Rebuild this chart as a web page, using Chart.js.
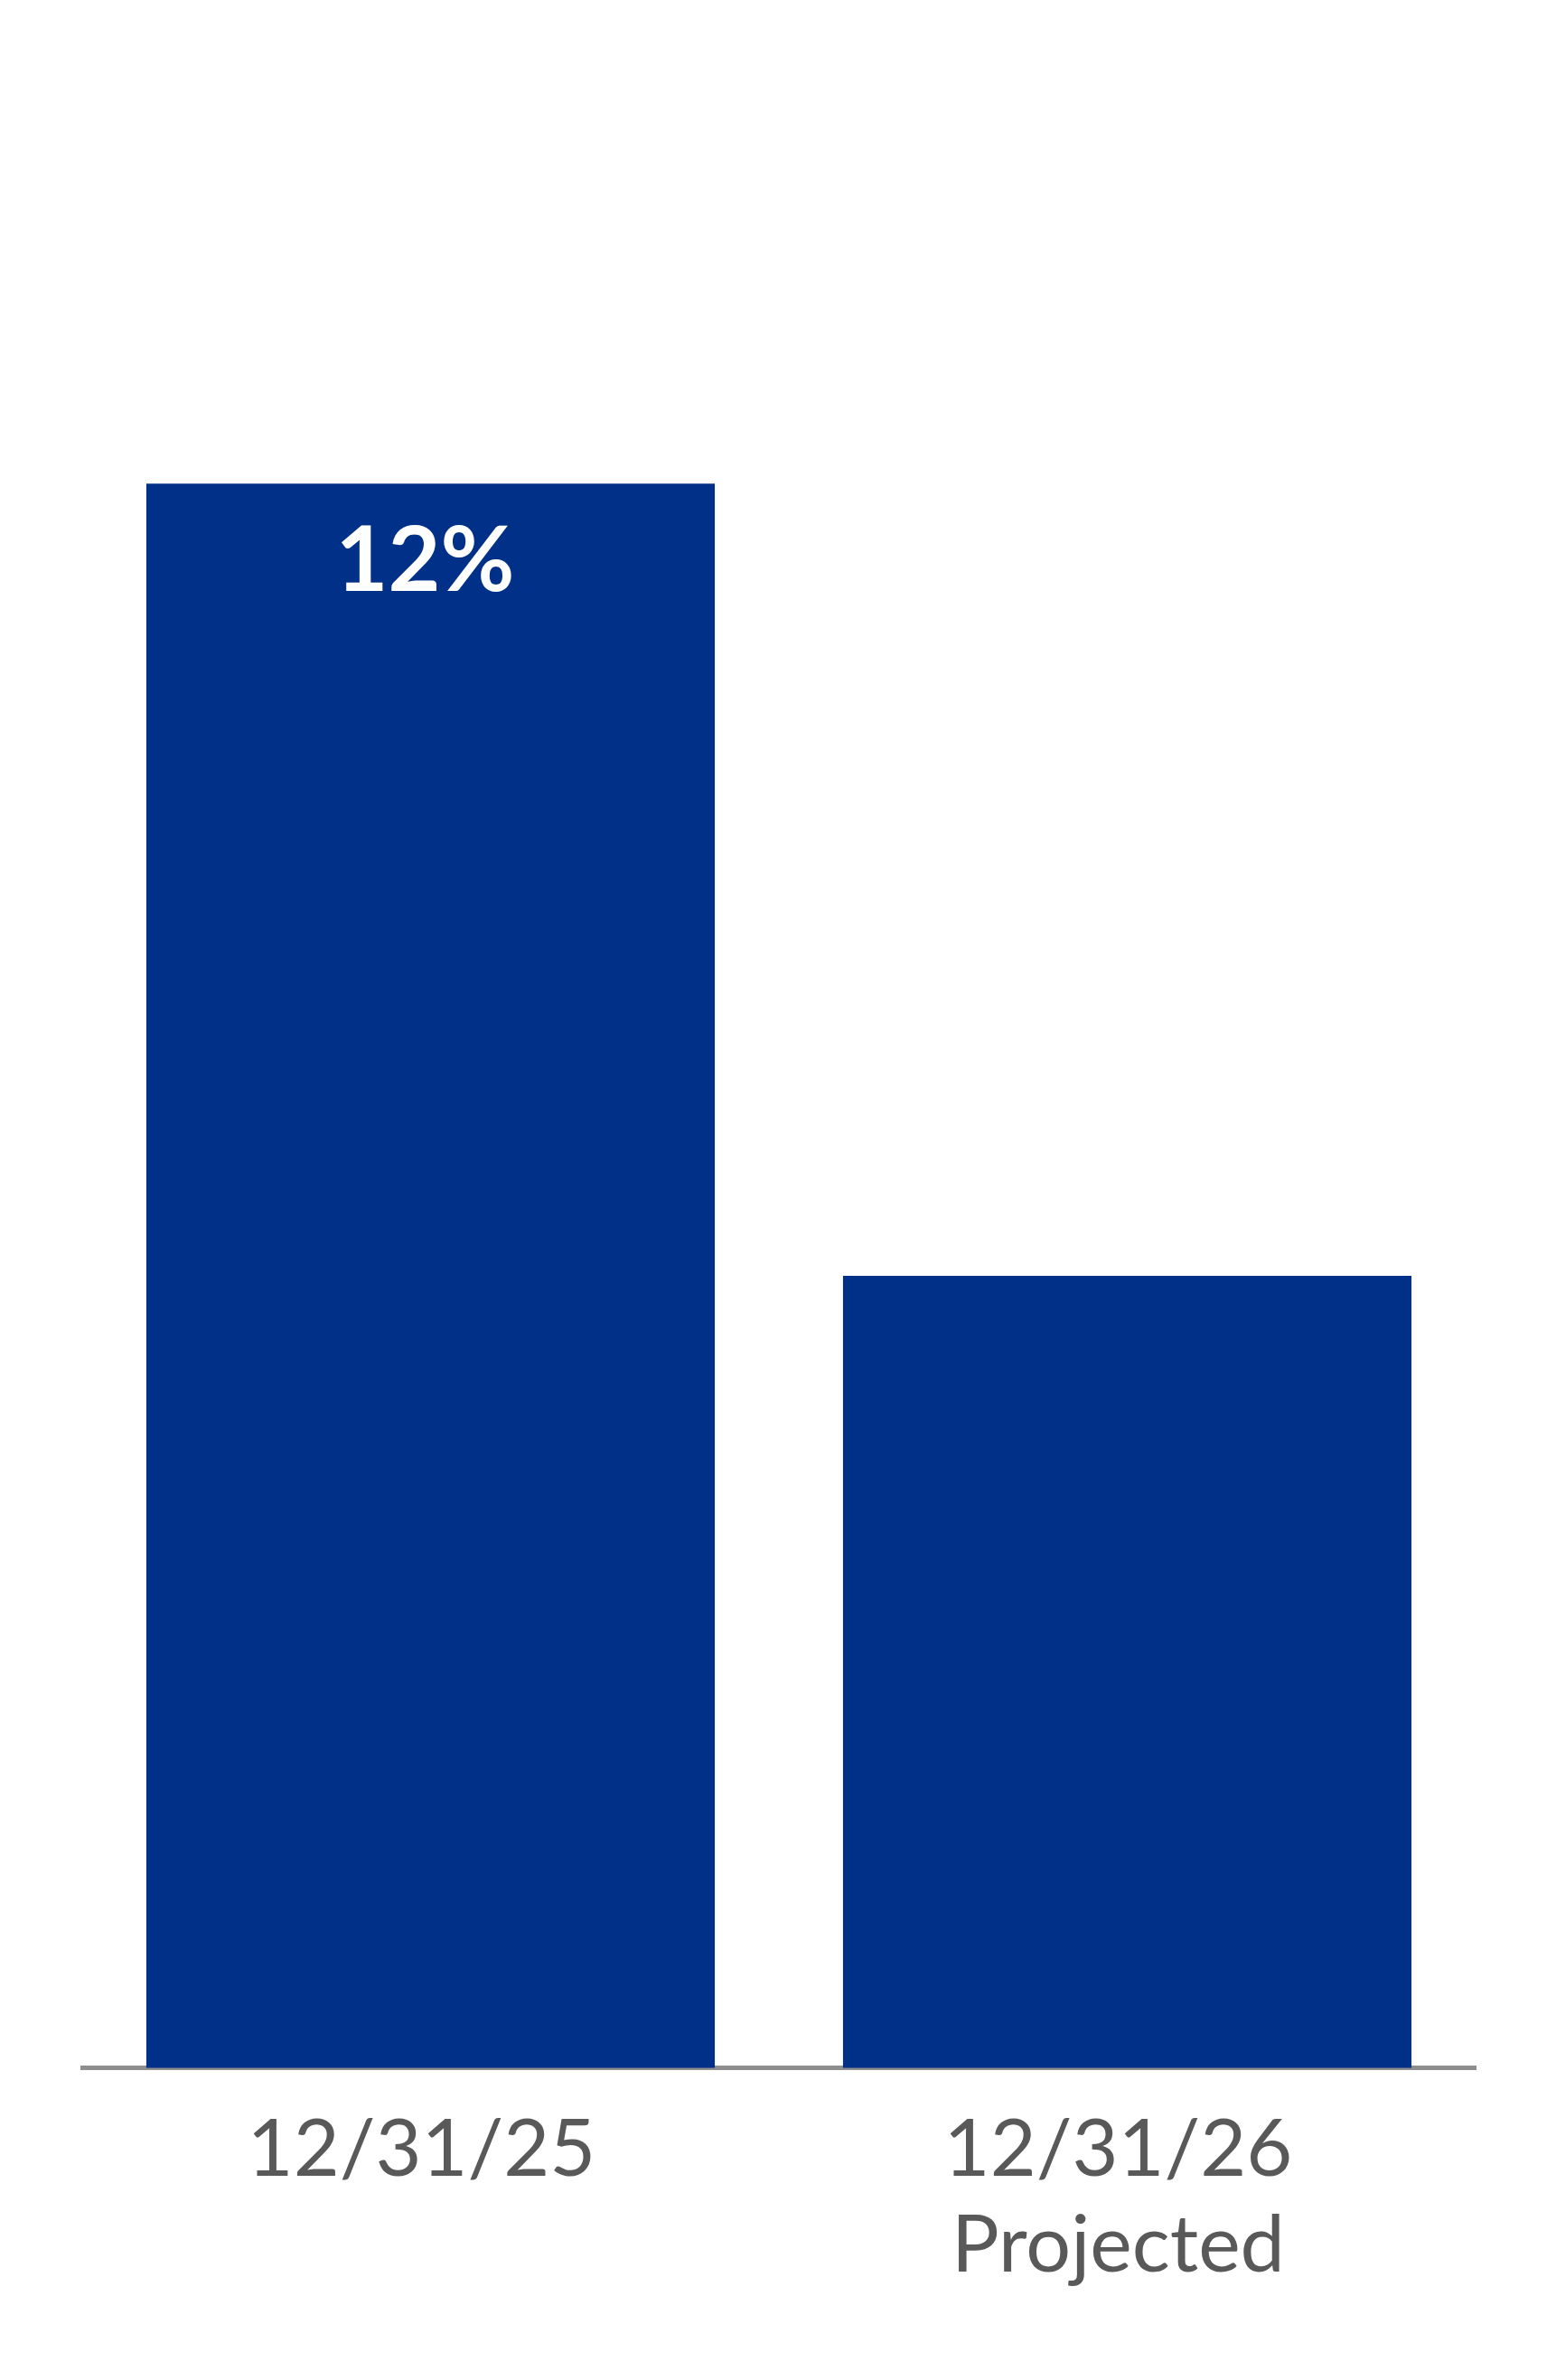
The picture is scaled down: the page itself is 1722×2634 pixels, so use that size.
<!DOCTYPE html>
<html>
<head>
<meta charset="utf-8">
<script src="https://cdn.jsdelivr.net/npm/chart.js@4.4.1/dist/chart.umd.min.js"></script>
<style>
    html, body { margin: 0; padding: 0; background: #ffffff; }
    #wrap { width: 1722px; height: 2634px; }
</style>
</head>
<body>
<div id="wrap"><canvas id="bar-chart" width="1722" height="2634"></canvas></div>
<script>
// Chart data
const categories = [['12/31/25'], ['12/31/26', 'Projected']];
const rateValues = [12, 6];
const valueLabels = ['12%', ''];

const BAR_COLOR = '#003087';
const TEXT_COLOR = '#595959';
const AXIS_COLOR = '#8e8e8e';

// Draw the value label inside the top of each bar
const barLabelPlugin = {
    id: 'barLabel',
    afterDatasetsDraw(chart) {
        const ctx = chart.ctx;
        const meta = chart.getDatasetMeta(0);
        ctx.save();
        ctx.fillStyle = '#ffffff';
        ctx.font = 'bold 100px Lato';
        ctx.textAlign = 'center';
        ctx.textBaseline = 'middle';
        meta.data.forEach((bar, i) => {
            if (!valueLabels[i]) return;
            ctx.fillText(valueLabels[i], bar.x - 6, bar.y + 86);
        });
        ctx.restore();
    }
};

function drawChart() {
    const ctx = document.getElementById('bar-chart');
    new Chart(ctx, {
        type: 'bar',
        data: {
            labels: categories,
            datasets: [{
                data: rateValues,
                backgroundColor: BAR_COLOR,
                borderWidth: 0,
                barPercentage: 0.816,
                categoryPercentage: 1.0
            }]
        },
        options: {
            responsive: false,
            animation: false,
            devicePixelRatio: 1,
            layout: {
                padding: { top: 243, left: 91, right: 89, bottom: 58 }
            },
            plugins: {
                legend: { display: false },
                tooltip: { enabled: false }
            },
            scales: {
                x: {
                    z: 1,
                    grid: { display: false, drawTicks: false },
                    border: { display: true, color: AXIS_COLOR, width: 5 },
                    ticks: {
                        color: TEXT_COLOR,
                        padding: 38,
                        labelOffset: -10,
                        maxRotation: 0,
                        font: { family: 'Lato', size: 88, lineHeight: 1.2 }
                    }
                },
                y: {
                    display: false,
                    min: 0,
                    max: 14
                }
            }
        },
        plugins: [barLabelPlugin]
    });
}

Promise.all([
    document.fonts.load('88px Lato'),
    document.fonts.load('bold 100px Lato')
]).then(drawChart, drawChart);
</script>
</body>
</html>
